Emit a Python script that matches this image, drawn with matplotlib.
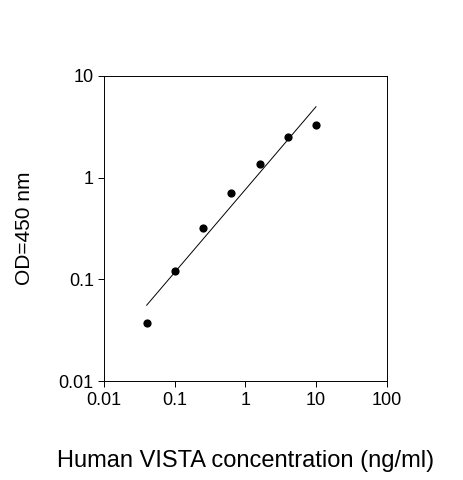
import numpy as np
import matplotlib
matplotlib.use("Agg")
import matplotlib.pyplot as plt

plt.rcParams['font.family'] = ['Liberation Sans', 'DejaVu Sans']

conc = [0.04, 0.1, 0.25, 0.625, 1.6, 4, 10]
od = [0.037, 0.12, 0.32, 0.7, 1.35, 2.5, 3.3]

fig = plt.figure(figsize=(4.63, 4.8), dpi=100)
ax = fig.add_axes([0.225, 0.206, 0.61, 0.636])
ax.set_xscale('log'); ax.set_yscale('log')
ax.set_xlim(0.01, 100); ax.set_ylim(0.01, 10)
ax.scatter(conc, od, s=24, color='black', zorder=3)
p = np.polyfit(np.log10(conc), np.log10(od), 1)
xl = np.array([conc[0], conc[-1]])
ax.plot(xl, 10**np.polyval(p, np.log10(xl)), color='black', lw=0.7)
ax.set_xticks([0.01, 0.1, 1, 10, 100])
ax.set_xticklabels(['0.01', '0.1', '1', '10', '100'])
ax.set_yticks([0.01, 0.1, 1, 10])
ax.set_yticklabels(['0.01', '0.1', '1', '10'])
ax.minorticks_off()
ax.tick_params(direction='out', labelsize=13, length=4, width=0.7)
for s in ax.spines.values():
    s.set_linewidth(0.7)
ax.set_xlabel('Human VISTA concentration (ng/ml)', fontsize=17, labelpad=30)
ax.set_ylabel('OD=450 nm', fontsize=15, labelpad=18)
fig.savefig('out.png', dpi=100)
